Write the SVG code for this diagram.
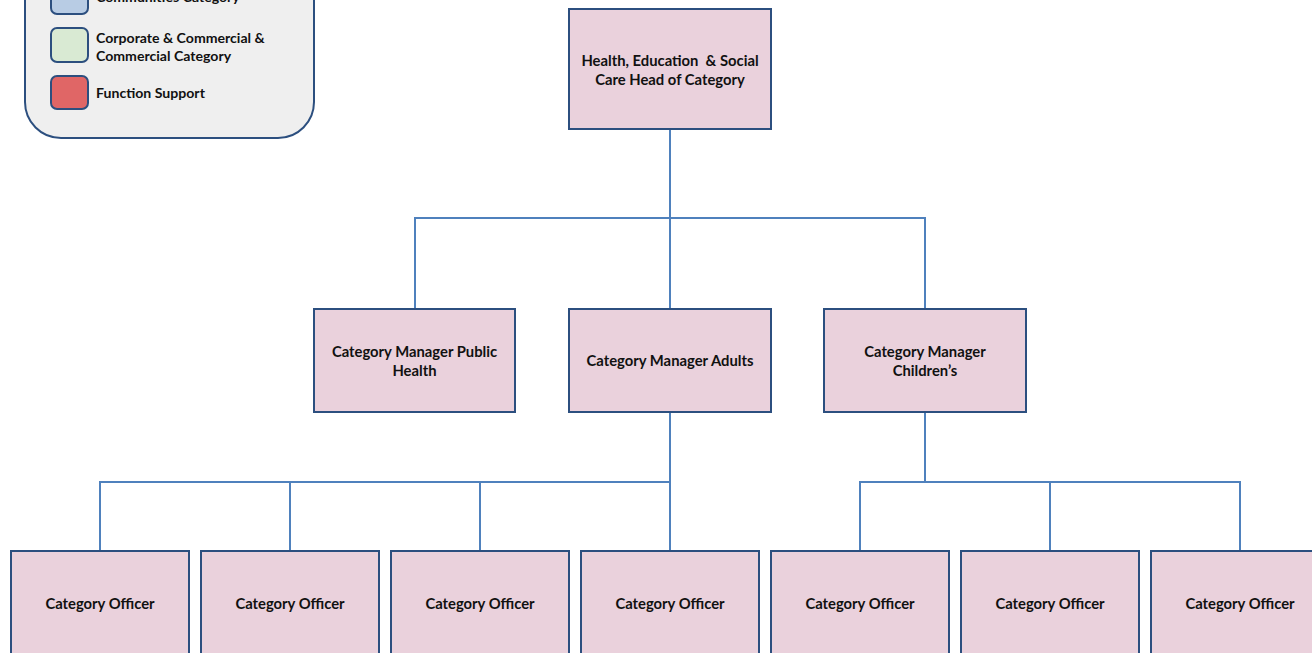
<svg xmlns="http://www.w3.org/2000/svg" width="1312" height="653" viewBox="0 0 1312 653">
<style>
.box{fill:#ead1dc;stroke:#2c4f7f;stroke-width:2}
.sw{stroke:#2c4f7f;stroke-width:2}
.t{font-family:Lato,"Liberation Sans",sans-serif;font-weight:bold;font-size:14.8px;fill:#111;text-anchor:middle}
.lt{font-family:Lato,"Liberation Sans",sans-serif;font-weight:bold;font-size:14.1px;fill:#111}
.c{fill:none;stroke:#4f81bd;stroke-width:2}
</style>
<rect width="1312" height="653" fill="#fff"/>
<g id="legend">
<rect x="25" y="-60" width="289" height="198" rx="36" fill="#efefef" stroke="#2c4f7f" stroke-width="2"/>
<rect class="sw" x="51" y="-20" width="37" height="34" rx="6" fill="#b8cce4"/>
<text class="lt" x="96" y="2">Communities Category</text>
<rect class="sw" x="51" y="28" width="37" height="34" rx="6" fill="#d9ead3"/>
<text class="lt" x="96" y="43">Corporate &amp; Commercial &amp;</text>
<text class="lt" x="96" y="61">Commercial Category</text>
<rect class="sw" x="51" y="76" width="37" height="33" rx="6" fill="#e06666"/>
<text class="lt" x="96" y="98">Function Support</text>
</g>
<g id="connectors">
<path class="c" d="M670 129V218M415 309V218H925V309M670 218V309"/>
<path class="c" d="M670 412V482M100 551V482H670V551M290 482V551M480 482V551"/>
<path class="c" d="M925 412V482M860 551V482H1240V551M1050 482V551"/>
</g>
<g id="head"><rect class="box" x="569" y="9" width="202" height="120"/>
<text class="t" x="670" y="66" xml:space="preserve">Health, Education  &amp; Social</text><text class="t" x="670" y="85">Care Head of Category</text></g>
<g id="cm-public-health"><rect class="box" x="314" y="309" width="201" height="103"/>
<text class="t" x="414.5" y="357">Category Manager Public</text><text class="t" x="414.5" y="376">Health</text></g>
<g id="cm-adults"><rect class="box" x="569" y="309" width="202" height="103"/>
<text class="t" x="670" y="366">Category Manager Adults</text></g>
<g id="cm-children"><rect class="box" x="824" y="309" width="202" height="103"/>
<text class="t" x="925" y="357">Category Manager</text><text class="t" x="925" y="376">Children’s</text></g>
<g id="officer1"><rect class="box" x="11" y="551" width="178" height="120"/><text class="t" x="100" y="609">Category Officer</text></g>
<g id="officer2"><rect class="box" x="201" y="551" width="178" height="120"/><text class="t" x="290" y="609">Category Officer</text></g>
<g id="officer3"><rect class="box" x="391" y="551" width="178" height="120"/><text class="t" x="480" y="609">Category Officer</text></g>
<g id="officer4"><rect class="box" x="581" y="551" width="178" height="120"/><text class="t" x="670" y="609">Category Officer</text></g>
<g id="officer5"><rect class="box" x="771" y="551" width="178" height="120"/><text class="t" x="860" y="609">Category Officer</text></g>
<g id="officer6"><rect class="box" x="961" y="551" width="178" height="120"/><text class="t" x="1050" y="609">Category Officer</text></g>
<g id="officer7"><rect class="box" x="1151" y="551" width="178" height="120"/><text class="t" x="1240" y="609">Category Officer</text></g>
</svg>
